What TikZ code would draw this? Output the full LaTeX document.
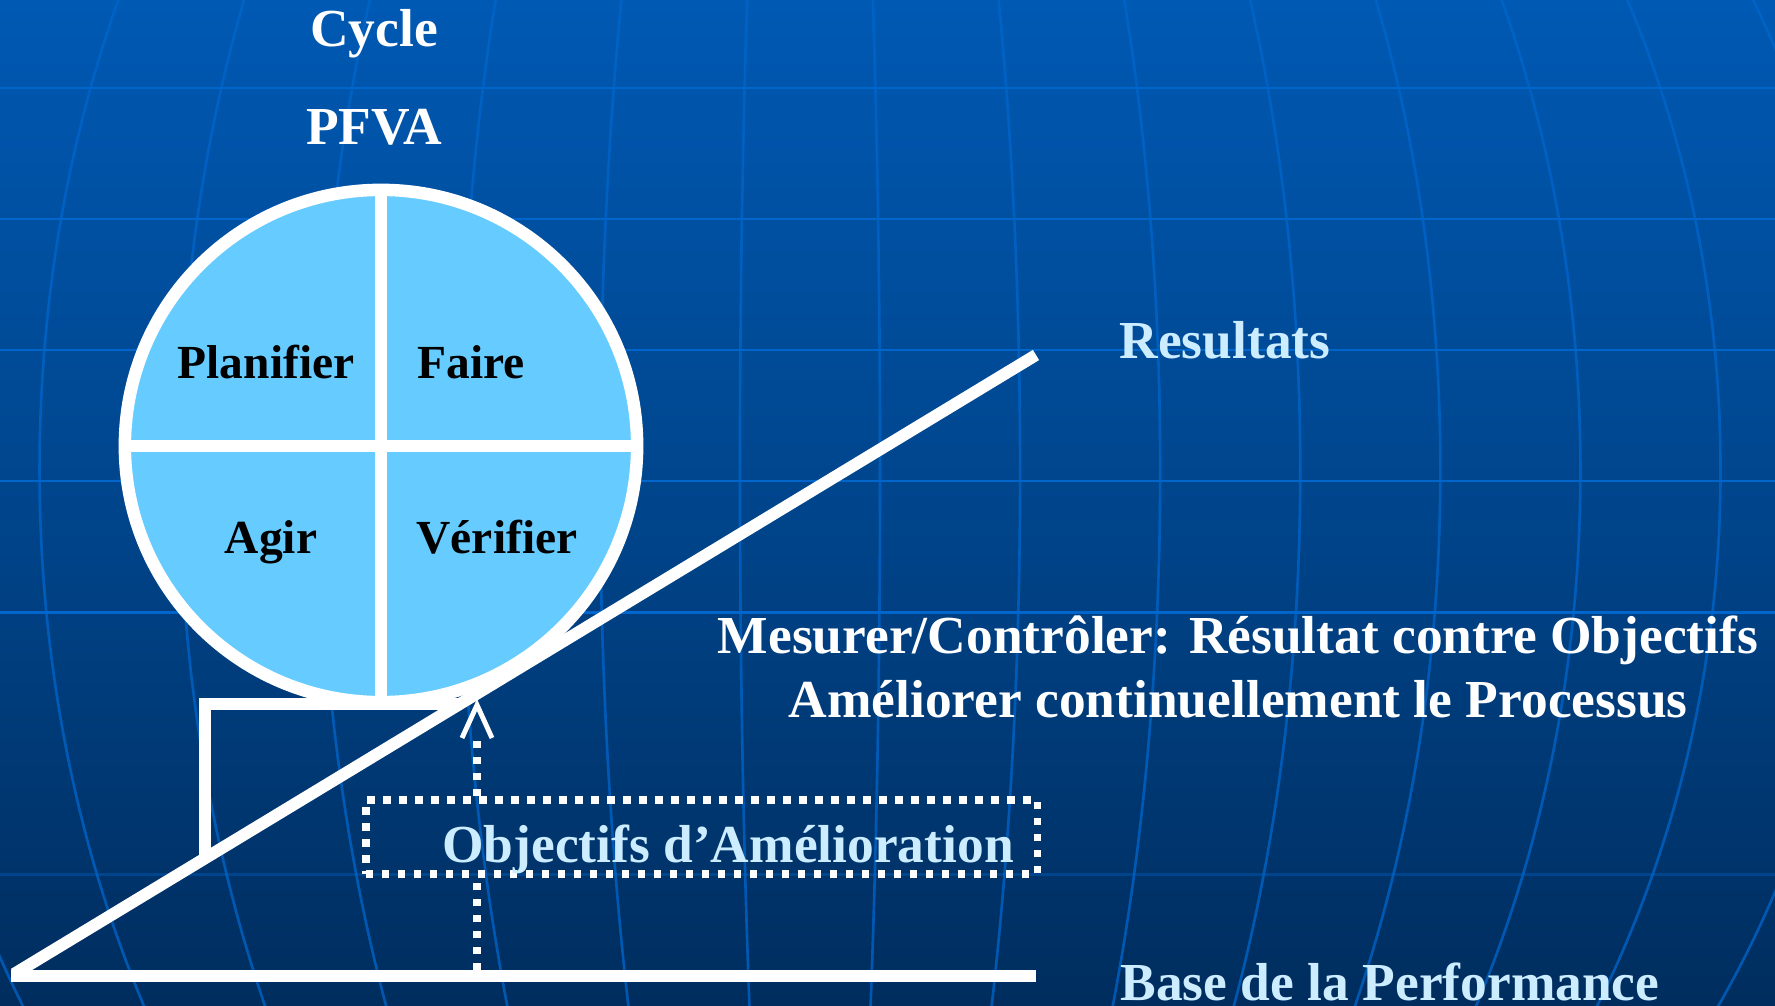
\documentclass[tikz,border=0pt]{standalone}
\usepackage{fontspec}
\setmainfont{Liberation Serif}

\definecolor{bgtop}{RGB}{0,89,179}
\definecolor{bgmid}{RGB}{0,69,140}
\definecolor{bgbot}{RGB}{0,45,94}
\definecolor{gridblue}{RGB}{0,102,204}
\definecolor{cyclefill}{RGB}{102,204,255}
\definecolor{paleblue}{RGB}{204,236,255}

\tikzset{
    bigtext/.style={font=\fontsize{15.2}{18}\selectfont\bfseries, anchor=base, inner sep=0pt},
    whitetext/.style={bigtext, text=white},
    paletext/.style={bigtext, text=paleblue},
    phase/.style={font=\fontsize{13.5}{16}\selectfont\bfseries, anchor=base, inner sep=0pt, text=black},
    ramp/.style={draw=white, line width=3.4pt},
    dots/.style={draw=white, line width=2.1pt, dash pattern=on 2.1pt off 2.45pt},
}

\begin{document}
\begin{tikzpicture}[x=0.01cm, y=-0.01cm]
    \useasboundingbox (0,0) rectangle (1775,1006);
    \clip (0,0) rectangle (1775,1006);

    % background with the globe grid
    \shade[top color=bgtop, bottom color=bgbot, middle color=bgmid] (0,0) rectangle (1775,1006);
    \foreach \y in {88,219,350,481,612}
        \draw[gridblue, line width=0.85pt] (0,\y) -- (1775,\y);
    \draw[gridblue, opacity=0.35, line width=0.85pt] (0,874) -- (1775,874);
    \foreach \k in {0,...,7} {
        \pgfmathsetmacro\rx{0.7+1.4*\k}
        \draw[gridblue, opacity=0.75, line width=0.75pt] (810,470) ellipse [x radius=\rx cm, y radius=10.65cm];
    }

    % title
    \node[whitetext] (cycle) at (374,47) {Cycle};
    \node[whitetext] (pfva) at (374,144) {PFVA};

    % the wheel
    \node[circle, draw=white, fill=cyclefill, line width=3.55pt, minimum size=5.12cm, inner sep=0pt] (pdca) at (381,446) {};
    \draw[white, line width=3.4pt] (pdca.north) -- (pdca.south);
    \draw[white, line width=3.4pt] (pdca.west) -- (pdca.east);
    \node[phase] (plan) at (266,378) {Planifier};
    \node[phase] (do) at (471,378) {Faire};
    \node[phase] (act) at (271,553) {Agir};
    \node[phase] (check) at (497,553) {Vérifier};

    % slope, base and the wedge under the wheel
    \coordinate (o) at (14,974);
    \coordinate (top) at (1036,355);
    \coordinate (b0) at (11,976);
    \coordinate (b1) at (1036,976);
    \coordinate (w1) at (205,862);
    \coordinate (w2) at (205,704);
    \coordinate (w3) at (460,704);
    \draw[ramp] (o) -- (top);
    \draw[ramp] (b0) -- (b1);
    \draw[ramp] (w1) -- (w2) -- (w3);

    % improvement goals
    \node[dots, minimum width=6.71cm, minimum height=0.74cm, inner sep=0pt] (goal) at (701.5,837) {};
    \node[paletext] (goaltxt) at (728,862) {Objectifs d’Amélioration};
    \coordinate (foot) at (477,970);
    \coordinate (tip) at (477,705);
    \draw[dots] (foot) -- (foot |- goal.south);
    \draw[dots] (tip |- goal.north) -- ([shift={(0,31)}]tip);
    \draw[white, line width=1.4pt] ([shift={(-15,33)}]tip) -- (tip) -- ([shift={(15,33)}]tip);

    % labels on the right
    \node[paletext] (res) at (1225,358) {Resultats};
    \node[whitetext] (mesure) at (1238,653) {Mesurer/Contrôler: Résultat contre Objectifs};
    \node[whitetext] (amelio) at (1238,717) {Améliorer continuellement le Processus};
    \node[paletext] (base) at (1390,1000) {Base de la Performance};
\end{tikzpicture}
\end{document}
